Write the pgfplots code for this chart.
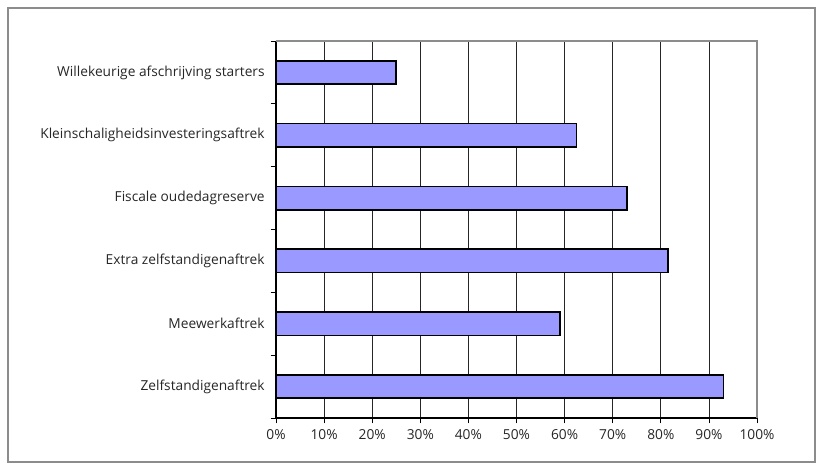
\documentclass[border=0pt]{standalone}
\usepackage{pgfplots}
\pgfplotsset{compat=1.18}
\usepackage{fontspec}
\setmainfont{Open Sans}
\definecolor{barfill}{HTML}{9999FF}
\definecolor{frame}{HTML}{8C8C8C}
\begin{document}
\begin{tikzpicture}
\useasboundingbox (-207pt,-39pt) rectangle (411pt,313.5pt);
\draw[frame, line width=1.5pt] (-201pt,-33pt) rectangle (404.25pt,307.5pt);
\begin{axis}[
  at={(0pt,0pt)}, anchor=south west,
  scale only axis, width=360.75pt, height=282.75pt,
  xbar, xmin=0, xmax=100, ymin=-0.5, ymax=5.5,
  axis x line*=bottom, axis y line*=left,
  axis line style={-, black, line width=0.9pt},
  xtick={0,10,...,100},
  xticklabels={0\%,10\%,20\%,30\%,40\%,50\%,60\%,70\%,80\%,90\%,100\%},
  ytick={0,...,5},
  yticklabels={Zelfstandigenaftrek,Meewerkaftrek,Extra zelfstandigenaftrek,Fiscale oudedagreserve,Kleinschaligheidsinvesteringsaftrek,Willekeurige afschrijving starters},
  minor ytick={-0.5,0.5,...,5.5},
  tick align=outside,
  major tick length=4pt, minor tick length=4pt,
  y tick style={draw=none},
  minor y tick style={draw=black, line width=0.6pt},
  x tick style={black, line width=0.6pt},
  xmajorgrids, major grid style={black!85, line width=0.6pt},
  ticklabel style={font=\fontsize{10.3}{12}\selectfont, text=black!85},
  xticklabel style={yshift=-1pt},
  yticklabel style={xshift=-1pt},
  /pgf/number format/assume math mode=true,
  bar width=17.5pt,
  clip=false,
]
\addplot[fill=barfill, draw=black, line width=1.2pt] coordinates {
  (93,0) (59,1) (81.5,2) (73,3) (62.5,4) (25,5)
};
\draw[frame, line width=1.2pt] (rel axis cs:0,1) -- (rel axis cs:1,1) -- (rel axis cs:1,0);
\end{axis}
\end{tikzpicture}
\end{document}
